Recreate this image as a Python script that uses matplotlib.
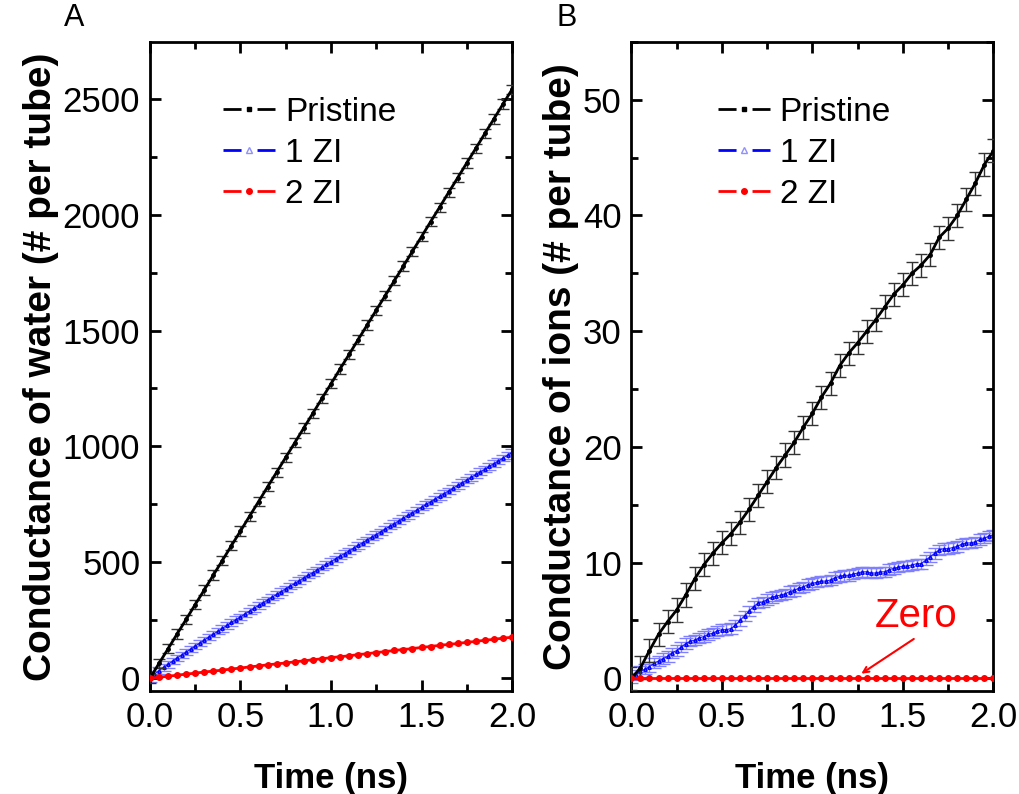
import numpy as np
import matplotlib
matplotlib.use("Agg")
import matplotlib.pyplot as plt
from matplotlib.lines import Line2D
from matplotlib.ticker import MultipleLocator

plt.rcParams["font.family"] = ["Liberation Sans", "DejaVu Sans"]

# time axes (ns)
t_coarse = np.arange(41) * 0.05
t_fine = np.arange(81) * 0.025

# Panel A - water conductance (# per tube)
water_pristine = [0, 64, 127, 191, 254, 318, 381, 445, 508, 572, 635, 699, 762, 826, 889,
                  953, 1016, 1080, 1143, 1207, 1270, 1334, 1397, 1461, 1524, 1588, 1651,
                  1715, 1778, 1842, 1905, 1969, 2032, 2096, 2159, 2223, 2286, 2350, 2413,
                  2477, 2540]
water_1zi = [0, 18, 33, 47, 60, 74, 88, 100, 113, 126, 139, 152, 165, 178, 190, 203, 215,
             228, 241, 253, 265, 278, 290, 302, 314, 326, 338, 350, 362, 374, 386, 398, 409,
             421, 433, 445, 456, 468, 480, 491, 503, 515, 527, 538, 550, 562, 573, 585, 597,
             609, 620, 632, 644, 656, 667, 679, 691, 703, 714, 726, 738, 750, 761, 773, 785,
             797, 808, 820, 832, 844, 855, 867, 879, 891, 902, 914, 926, 938, 950, 962, 975]
water_2zi = [0, 4, 9, 13, 18, 22, 27, 31, 35, 40, 44, 49, 53, 58, 62, 66, 71, 75, 80, 84,
             89, 93, 97, 102, 106, 111, 115, 120, 124, 128, 133, 137, 142, 146, 150, 155,
             159, 164, 168, 173, 177]
water_err = [20, 14, 5]

# Panel B - ion conductance (# per tube)
ions_pristine = [0, 0.9, 2.4, 3.8, 4.9, 5.9, 7.2, 8.6, 9.8, 10.8, 11.7, 12.5, 13.5, 14.6,
                 15.8, 17.0, 18.2, 19.3, 20.4, 21.7, 22.9, 24.3, 25.5, 27.0, 28.1, 29.0,
                 30.0, 31.0, 32.1, 33.2, 34.0, 35.0, 35.7, 36.6, 38.1, 38.9, 40.0, 41.4,
                 42.8, 44.4, 45.6]
ions_1zi = [0.0, 0.3, 0.6, 0.8, 1.0, 1.3, 1.5, 1.7, 1.9, 2.2, 2.4, 2.7, 3.0, 3.2, 3.3, 3.5,
            3.6, 3.8, 3.9, 4.1, 4.2, 4.2, 4.3, 4.6, 5.0, 5.4, 5.8, 6.2, 6.5, 6.6, 6.8, 7.0,
            7.1, 7.2, 7.3, 7.5, 7.6, 7.8, 7.9, 8.1, 8.2, 8.3, 8.4, 8.4, 8.5, 8.7, 8.8, 8.9,
            8.9, 9.0, 9.1, 9.2, 9.2, 9.1, 9.1, 9.2, 9.2, 9.4, 9.5, 9.6, 9.7, 9.7, 9.8, 9.9,
            9.9, 10.2, 10.5, 10.8, 11.1, 11.2, 11.2, 11.3, 11.4, 11.6, 11.7, 11.7, 11.8,
            12.0, 12.1, 12.3, 12.4]
ions_2zi = [0] * 41
ions_err = [1.0, 0.45, 0.0]

labels = ["Pristine", "1 ZI", "2 ZI"]

fig = plt.figure(figsize=(10.2, 7.94), dpi=100)
axA = fig.add_axes([0.147, 0.1297, 0.355, 0.8175])
axB = fig.add_axes([0.619, 0.1297, 0.355, 0.8175])


def draw(ax, ys, errs):
    black, blue, red = ys
    ax.errorbar(t_coarse, black, yerr=errs[0], color="black", lw=2, marker="o", ms=2.5,
                ecolor="#333333", elinewidth=1, capsize=4, capthick=1, zorder=3)
    ax.errorbar(t_fine, blue, yerr=errs[1], color="#2020ff", lw=0.8, marker="^", ms=2.5,
                mfc="none", mec="#0000ff", ecolor="#8080ff", elinewidth=1, capsize=5,
                capthick=1, zorder=2)
    ax.errorbar(t_coarse, red, yerr=errs[2], color="#ff0000", lw=2, marker="o", ms=4,
                ecolor="#ff0000", elinewidth=1, capsize=2, capthick=1, zorder=4)


draw(axA, [water_pristine, water_1zi, water_2zi], water_err)
draw(axB, [ions_pristine, ions_1zi, ions_2zi], ions_err)

axA.set_ylim(-55, 2745)
axA.yaxis.set_major_locator(MultipleLocator(500))
axA.yaxis.set_minor_locator(MultipleLocator(250))
axB.set_ylim(-1.1, 55)
axB.yaxis.set_major_locator(MultipleLocator(10))
axB.yaxis.set_minor_locator(MultipleLocator(5))

axA.set_ylabel("Conductance of water (# per tube)", fontsize=28, fontweight="bold", labelpad=3)
axB.set_ylabel("Conductance of ions (# per tube)", fontsize=28, fontweight="bold", labelpad=3)

for ax, lx in ((axA, 0.12), (axB, 0.155)):
    ax.set_xlim(0, 2.0)
    ax.xaxis.set_major_locator(MultipleLocator(0.5))
    ax.xaxis.set_minor_locator(MultipleLocator(0.25))
    ax.xaxis.set_major_formatter(plt.FormatStrFormatter("%.1f"))
    ax.set_xlabel("Time (ns)", fontsize=25, fontweight="bold", labelpad=20)
    ax.tick_params(which="both", direction="in", top=True, right=True, width=2,
                   labelsize=25, pad=7)
    ax.tick_params(which="major", length=8)
    ax.tick_params(which="minor", length=5)
    for s in ax.spines.values():
        s.set_linewidth(2)

    handles = [
        Line2D([], [], color="black", lw=2, dashes=(6.5, 5.75), marker="s", ms=3),
        Line2D([], [], color="#0000ff", lw=2, dashes=(6.5, 5.75), marker="^", ms=4,
               mfc="none", mec="#9090ff"),
        Line2D([], [], color="#ff0000", lw=2, dashes=(6.5, 5.75), marker="o", ms=4),
    ]
    ax.legend(handles, labels, loc="upper left", bbox_to_anchor=(lx, 0.962), frameon=False,
              fontsize=24, handlelength=1.56, handletextpad=0.3, labelspacing=0.3,
              numpoints=1)

axB.annotate("", xy=(1.27, 0.4), xytext=(1.56, 3.4),
             arrowprops=dict(arrowstyle="->", color="#ff0000", lw=1.5, shrinkA=0, shrinkB=0))
axB.text(1.57, 5.4, "Zero", color="#ff0000", fontsize=29, ha="center", va="center")

fig.text(0.073, 0.977, "A", fontsize=22, ha="center", va="center")
fig.text(0.556, 0.977, "B", fontsize=22, ha="center", va="center")

fig.savefig("out.png", dpi=100)
